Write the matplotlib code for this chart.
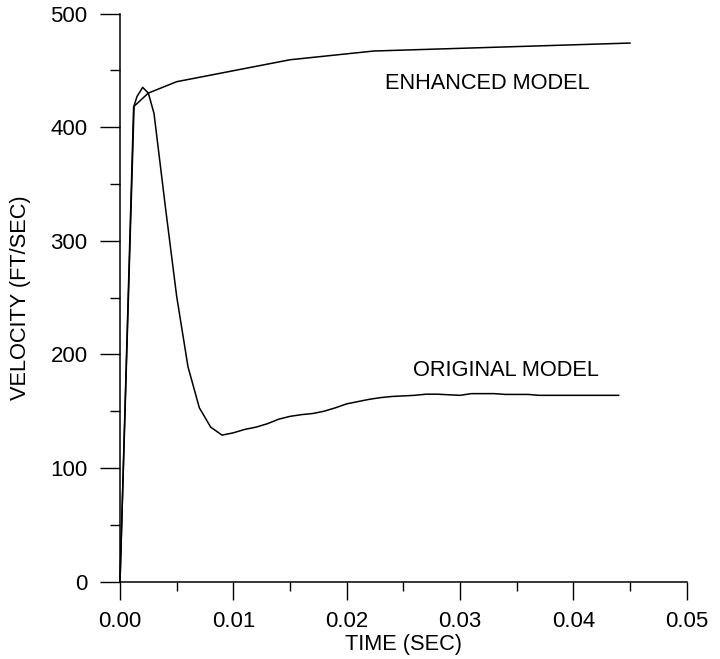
import matplotlib
matplotlib.use("Agg")
import matplotlib.pyplot as plt
from matplotlib.ticker import MultipleLocator, FormatStrFormatter

plt.rcParams['font.family'] = ['Liberation Sans', 'DejaVu Sans']

# Original model
orig_t = [0, 0.00124, 0.0015, 0.002, 0.0025, 0.003, 0.004, 0.005, 0.006, 0.007,
          0.008, 0.009, 0.010, 0.011, 0.012, 0.013, 0.014, 0.015, 0.016, 0.017,
          0.018, 0.019, 0.020, 0.021, 0.022, 0.023, 0.024, 0.025, 0.026, 0.027,
          0.028, 0.029, 0.030, 0.031, 0.032, 0.033, 0.034, 0.035, 0.036, 0.037,
          0.038, 0.039, 0.040, 0.041, 0.042, 0.043, 0.044]
orig_v = [0, 419, 427, 435, 430, 412, 330, 251, 189, 153,
          136, 129, 131, 134, 136, 139, 143, 145.5, 147, 148,
          150, 153, 156.5, 158.5, 160.5, 162, 163, 163.5, 164, 165,
          165, 164.5, 164, 165.5, 165.5, 165.5, 164.8, 164.8, 164.8, 164,
          164, 164, 164, 164, 164, 164, 164]

# Enhanced model
enh_t = [0, 0.0012, 0.0025, 0.005, 0.015, 0.0224, 0.045]
enh_v = [0, 418, 430, 440, 459.3, 467, 474]

fig = plt.figure(figsize=(7.2, 6.59), dpi=100)
ax = fig.add_axes([0.1667, 0.1173, 0.9537 - 0.1667, 0.9795 - 0.1173])

ax.plot(orig_t, orig_v, color='black', lw=1.1, clip_on=False)
ax.plot(enh_t, enh_v, color='black', lw=1.1, clip_on=False)

ax.text(0.02338, 438, 'ENHANCED MODEL', fontsize=15.7, va='center', ha='left')
ax.text(0.02583, 186, 'ORIGINAL MODEL', fontsize=15.7, va='center', ha='left')

ax.set_xlim(0, 0.05)
ax.set_ylim(0, 500)
ax.xaxis.set_major_locator(MultipleLocator(0.01))
ax.xaxis.set_minor_locator(MultipleLocator(0.005))
ax.yaxis.set_major_locator(MultipleLocator(100))
ax.yaxis.set_minor_locator(MultipleLocator(50))
ax.xaxis.set_major_formatter(FormatStrFormatter('%.2f'))

for s in ['top', 'right']:
    ax.spines[s].set_visible(False)
for s in ['left', 'bottom']:
    ax.spines[s].set_linewidth(1.1)

ax.tick_params(axis='x', which='major', direction='out', length=13.2, width=1.0,
               labelsize=16, pad=8)
ax.tick_params(axis='x', which='minor', direction='out', length=6.5, width=1.0)
ax.tick_params(axis='y', which='major', direction='out', length=14.4, width=1.0,
               labelsize=16, pad=9)
ax.tick_params(axis='y', which='minor', direction='out', length=7.2, width=1.0)

ax.set_xlabel('TIME (SEC)', fontsize=15.7, labelpad=1.5)
ax.set_ylabel('VELOCITY (FT/SEC)', fontsize=15.7, labelpad=14)

fig.savefig('out.png', dpi=100)
